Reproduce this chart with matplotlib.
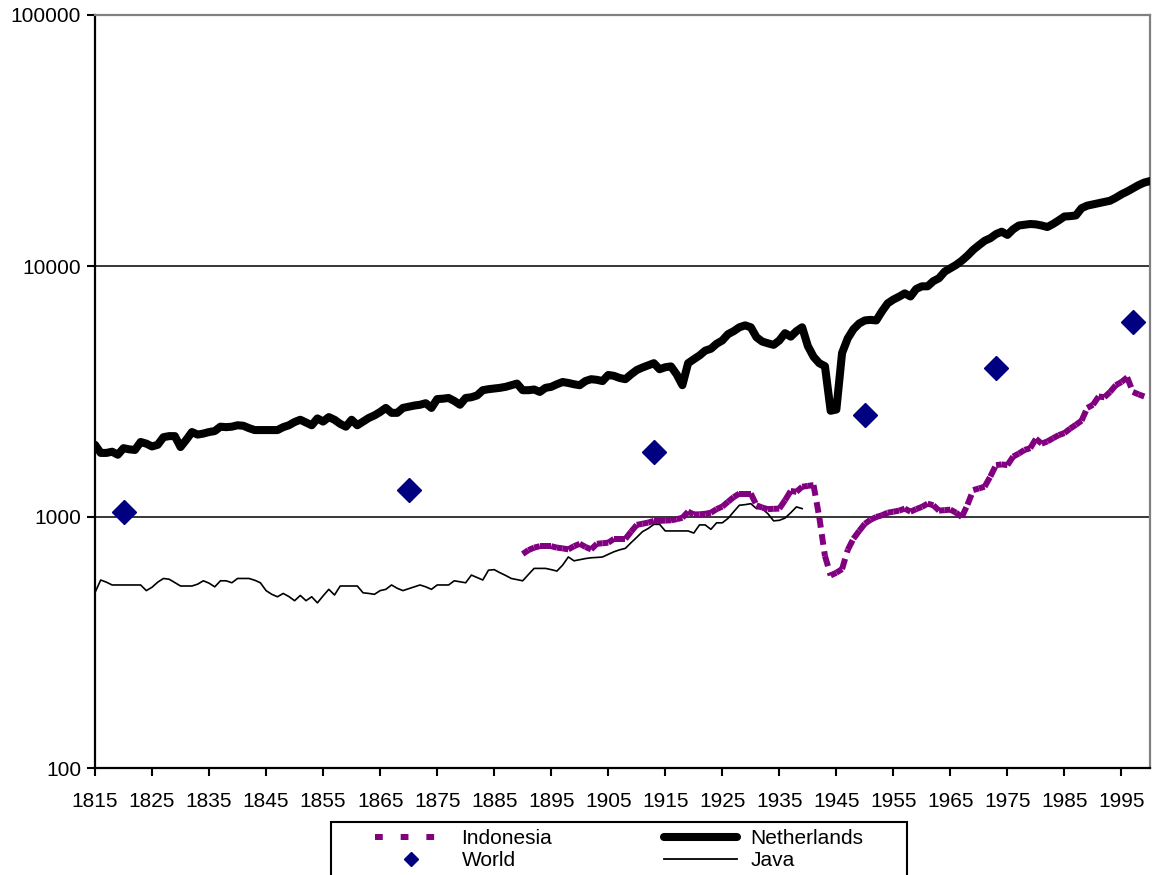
import numpy as np
import matplotlib.pyplot as plt
from matplotlib.lines import Line2D
from matplotlib.patches import Rectangle
from matplotlib.collections import LineCollection
from matplotlib.ticker import FixedLocator, NullLocator, FixedFormatter

plt.rcParams['font.family'] = ['Liberation Sans', 'DejaVu Sans']

# Netherlands, 1815-2000
nl_years = list(range(1815, 2001))
nl_values = [
    1940, 1800, 1800, 1820, 1770, 1880, 1860, 1850, 1990, 1960,   # 1815-
    1910, 1940, 2080, 2100, 2100, 1900, 2030, 2180, 2130, 2150,   # 1825-
    2180, 2200, 2290, 2280, 2290, 2320, 2310, 2260, 2220, 2220,   # 1835-
    2220, 2220, 2220, 2280, 2320, 2390, 2440, 2380, 2320, 2470,   # 1845-
    2400, 2500, 2440, 2350, 2290, 2440, 2320, 2400, 2480, 2540,   # 1855-
    2620, 2720, 2600, 2600, 2720, 2750, 2780, 2800, 2840, 2720,   # 1865-
    2950, 2960, 2980, 2900, 2800, 2980, 3000, 3050, 3200, 3230,   # 1875-
    3250, 3270, 3300, 3350, 3400, 3200, 3200, 3220, 3150, 3270,   # 1885-
    3300, 3380, 3450, 3420, 3380, 3350, 3480, 3540, 3520, 3480,   # 1895-
    3680, 3650, 3580, 3540, 3700, 3850, 3940, 4020, 4100, 3880,   # 1905-
    3950, 3980, 3700, 3350, 4100, 4250, 4400, 4600, 4680, 4900,   # 1915-
    5050, 5350, 5500, 5700, 5800, 5700, 5200, 5000, 4920, 4850,   # 1925-
    5050, 5400, 5230, 5500, 5700, 4800, 4350, 4100, 3990, 2650,   # 1935-
    2680, 4500, 5150, 5600, 5900, 6070, 6100, 6070, 6600, 7100,   # 1945-
    7350, 7550, 7780, 7560, 8100, 8300, 8300, 8700, 8940, 9500,   # 1955-
    9800, 10100, 10500, 11000, 11600, 12100, 12600, 12900, 13400, 13700,  # 1965-
    13300, 14000, 14500, 14600, 14700, 14650, 14500, 14300, 14700, 15200,  # 1975-
    15750, 15800, 15900, 17000, 17400, 17600, 17800, 18000, 18200, 18700,  # 1985-
    19300, 19800, 20400, 21000, 21500, 21800,                              # 1995-2000
]

# Java, 1815-1939
java_years = list(range(1815, 1940))
java_values = [
    500, 561, 550, 536, 536, 536, 536, 536, 536, 509,
    525, 550, 569, 565, 548, 531, 531, 531, 540, 557,
    545, 527, 557, 557, 547, 569, 569, 569, 560, 547,
    509, 492, 481, 496, 482, 464, 487, 464, 481, 455,
    485, 515, 489, 531, 531, 531, 531, 499, 496, 492,
    509, 515, 536, 520, 509, 518, 527, 536, 527, 515,
    536, 536, 536, 557, 552, 547, 587, 574, 561, 614,
    617, 600, 585, 569, 563, 557, 590, 624, 624, 624,
    617, 609, 643, 693, 669, 676, 683, 688, 690, 693,
    710, 727, 740, 750, 790, 830, 874, 900, 935, 935,
    880, 880, 880, 880, 880, 863, 930, 930, 893, 948,
    948, 987, 1050, 1114, 1120, 1130, 1080, 1080, 1030, 965,
    970, 990, 1040, 1097, 1080,
]

# Indonesia, 1890-1999
indo_years = list(range(1890, 2000))
indo_values = [
    712, 738, 755, 765, 765, 765, 755, 750, 743, 765,
    782, 760, 743, 782, 786, 790, 818, 818, 818, 874,
    930, 940, 950, 965, 965, 968, 970, 980, 993, 1050,
    1024, 1025, 1030, 1040, 1075, 1100, 1150, 1200, 1240, 1240,
    1240, 1114, 1090, 1075, 1078, 1080, 1166, 1270, 1260, 1320,
    1330, 1340, 1000, 700, 585, 600, 620, 740, 820, 880,
    940, 975, 1000, 1016, 1040, 1050, 1060, 1080, 1050, 1075,
    1097, 1130, 1114, 1060, 1065, 1070, 1040, 1000, 1120, 1280,
    1300, 1320, 1450, 1610, 1620, 1610, 1740, 1790, 1850, 1880,
    2050, 1960, 2000, 2060, 2120, 2160, 2250, 2330, 2420, 2720,
    2800, 3020, 3000, 3150, 3350, 3450, 3600, 3150, 3080, 3020,
]

# World benchmark years
world_years = [1820, 1870, 1913, 1950, 1973, 1997]
world_values = [1050, 1280, 1815, 2550, 3920, 5980]

x_ticks = list(range(1815, 2000, 10))
y_ticks = [100, 1000, 10000, 100000]
y_labels = ['100', '1000', '10000', '100000']

fig = plt.figure(figsize=(11.54, 8.75), dpi=100)
ax = fig.add_axes([95/1154, 1-768/875, 1055/1154, 753/875])

purple = '#800080'
navy = '#000080'
fs = 15

ax.plot(java_years, java_values, color='black', lw=1.2, zorder=3)
ax.plot(nl_years, nl_values, color='black', lw=5.8, solid_joinstyle='round',
        solid_capstyle='round', zorder=4)

# dash pattern restarts on every segment (as in the original)
pts = np.column_stack([indo_years, indo_values])
segs = np.stack([pts[:-1], pts[1:]], axis=1)
lc = LineCollection(segs, colors=purple, linewidths=4.3,
                    linestyles=[(0, (1.8, 1.1))], capstyle='butt', zorder=3)
ax.add_collection(lc)

ax.plot(world_years, world_values, ls='none', marker='D', ms=12.3, color=navy, zorder=5)

ax.set_yscale('log')
ax.set_ylim(100, 100000)
ax.set_xlim(1815, 2000)
ax.yaxis.set_major_locator(FixedLocator(y_ticks))
ax.yaxis.set_major_formatter(FixedFormatter(y_labels))
ax.yaxis.set_minor_locator(NullLocator())
ax.set_xticks(x_ticks)
ax.set_xticklabels([str(y) for y in x_ticks])

ax.grid(axis='y', which='major', color='black', lw=1.1, zorder=1)
ax.set_axisbelow(True)

ax.tick_params(axis='both', direction='out', length=6, width=1.5, labelsize=fs,
               color='black')
ax.tick_params(axis='x', pad=11)
ax.tick_params(axis='y', pad=4)

for s in ['left', 'bottom']:
    ax.spines[s].set_color('black')
    ax.spines[s].set_linewidth(1.6)
for s in ['top', 'right']:
    ax.spines[s].set_color('#808080')
    ax.spines[s].set_linewidth(1.6)

# legend box (runs off the bottom edge like the original)
fig.patches.append(Rectangle((331/1154, -0.01), (907-331)/1154, 0.01 + 1-822/875,
                             transform=fig.transFigure, fill=False,
                             edgecolor='black', lw=1.5))

handles = [
    Line2D([], [], color=purple, lw=4.3, dashes=(1.3, 3.0)),
    Line2D([], [], ls='none', marker='D', ms=7.5, color=navy),
    Line2D([], [], color='black', lw=5.8, solid_capstyle='round'),
    Line2D([], [], color='black', lw=1.3),
]
labels = ['Indonesia', 'World', 'Netherlands', 'Java']
fig.legend(handles, labels, ncol=2, loc='upper left',
           bbox_to_anchor=(375/1154, 1-829/875), fontsize=fs,
           frameon=False, handlelength=3.5, handletextpad=0.65,
           columnspacing=5.35, labelspacing=0.15, borderpad=0, borderaxespad=0)

fig.savefig('out.png', dpi=100)
